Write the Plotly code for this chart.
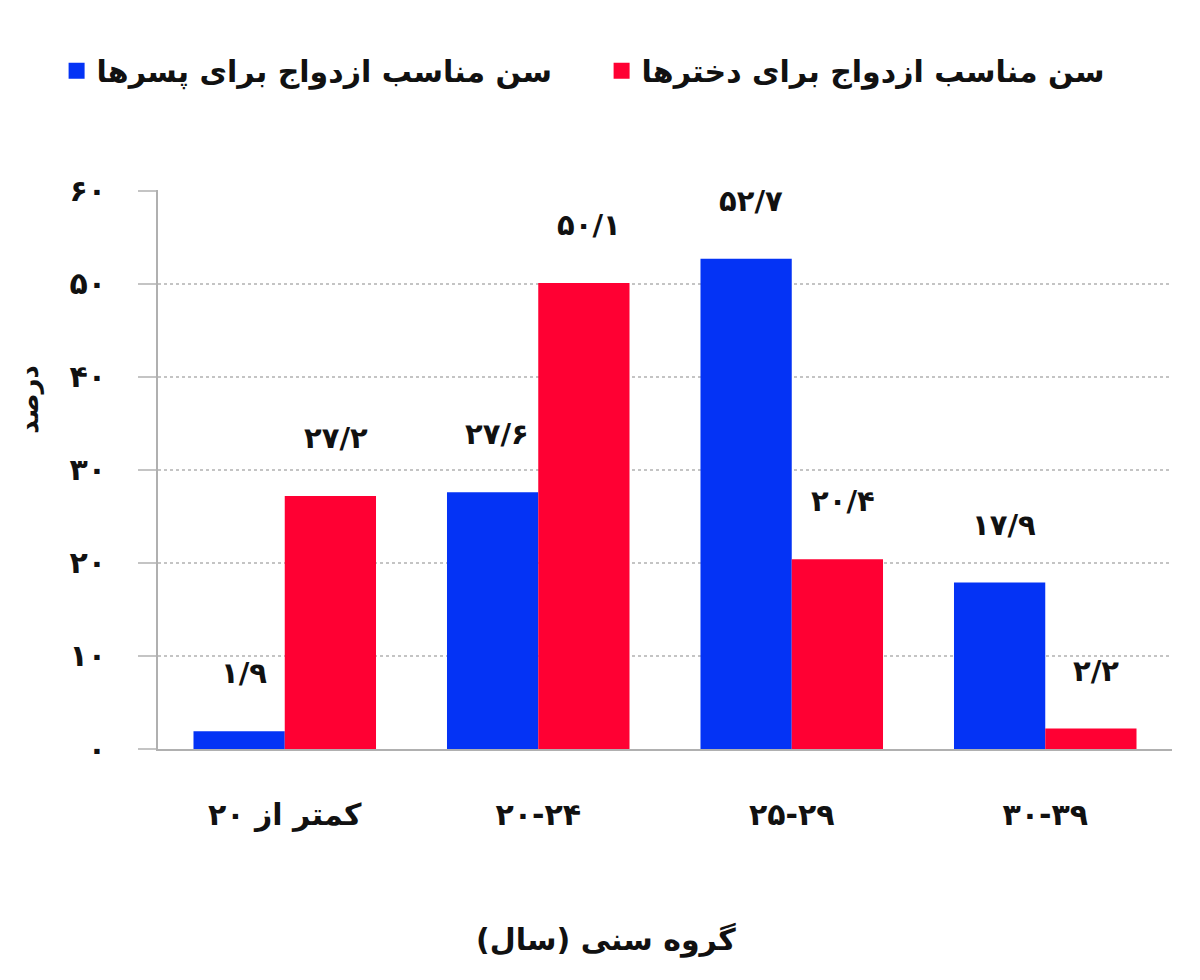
import plotly.graph_objects as go

categories = ["کمتر از ۲۰", "۲۰-۲۴", "۲۵-۲۹", "۳۰-۳۹"]
boys_name = "سن مناسب ازدواج برای پسرها"
girls_name = "سن مناسب ازدواج برای دخترها"
boys = [1.9, 27.6, 52.7, 17.9]
girls = [27.2, 50.1, 20.4, 2.2]
y_ticks = [0, 10, 20, 30, 40, 50, 60]
y_tick_labels = ["۰", "۱۰", "۲۰", "۳۰", "۴۰", "۵۰", "۶۰"]
x_title = "گروه سنی (سال)"
y_title = "درصد"

FA = str.maketrans("0123456789.", "۰۱۲۳۴۵۶۷۸۹/")


def fa(v):
    return f"{v:.1f}".translate(FA)


FONT = "DejaVu Sans"
BLUE = "#0433F5"
RED = "#FF0033"
INK = "#111111"

fig = go.Figure()
fig.add_trace(go.Bar(x=categories, y=boys, name=boys_name, marker_color=BLUE,
                     marker_line_width=0, showlegend=False))
fig.add_trace(go.Bar(x=categories, y=girls, name=girls_name, marker_color=RED,
                     marker_line_width=0, showlegend=False))
# legend entries with larger square swatches
for nm, col in ((boys_name, BLUE), (girls_name, RED)):
    fig.add_trace(go.Scatter(x=[None], y=[None], mode="markers", name=nm,
                             marker=dict(symbol="square", size=16, color=col)))

annotations = []
for series, shift in ((boys, -46), (girls, 46)):
    for c, v in zip(categories, series):
        annotations.append(dict(
            x=c, y=v, xref="x", yref="y", text=fa(v), showarrow=False,
            xshift=shift + 5, yshift=58, yanchor="middle",
            font=dict(family=FONT, size=29, color=INK, weight="bold")))

annotations.append(dict(
    x=0, y=0.625, xref="paper", yref="paper", text=y_title, showarrow=False,
    textangle=-90, xshift=-146, font=dict(family=FONT, size=26, color=INK, weight="bold")))
annotations.append(dict(
    x=0.442, y=0, xref="paper", yref="paper", text=x_title, showarrow=False,
    yshift=-191, yanchor="middle",
    font=dict(family=FONT, size=30, color=INK, weight="bold")))

fig.update_layout(
    width=1200, height=980,
    paper_bgcolor="white", plot_bgcolor="white",
    margin=dict(l=150, r=36, t=182, b=239),
    barmode="group", bargap=0.28, bargroupgap=0,
    font=dict(family=FONT, color=INK),
    showlegend=True,
    legend=dict(orientation="h", x=-0.1, xanchor="left", y=1.26, yanchor="top",
                font=dict(family=FONT, size=30, color=INK, weight="bold"),
                itemwidth=30, entrywidth=500, traceorder="normal"),
    annotations=annotations,
)
fig.update_xaxes(
    showline=True, linecolor="#b0b0b0", linewidth=2,
    tickfont=dict(family=FONT, size=30, color=INK, weight="bold"),
    ticklabelstandoff=38,
)
fig.update_yaxes(
    range=[0, 60.1], tickvals=y_ticks, ticktext=y_tick_labels,
    showline=True, linecolor="#b0b0b0", linewidth=2,
    showgrid=True, gridcolor="#c4c4c4", griddash="dot", gridwidth=1.5,
    ticks="outside", ticklen=18, tickcolor="#c4c4c4", tickwidth=1.5,
    ticklabelstandoff=26,
    tickfont=dict(family=FONT, size=30, color=INK, weight="bold"),
    zeroline=False,
)

fig.write_html("out.html")
